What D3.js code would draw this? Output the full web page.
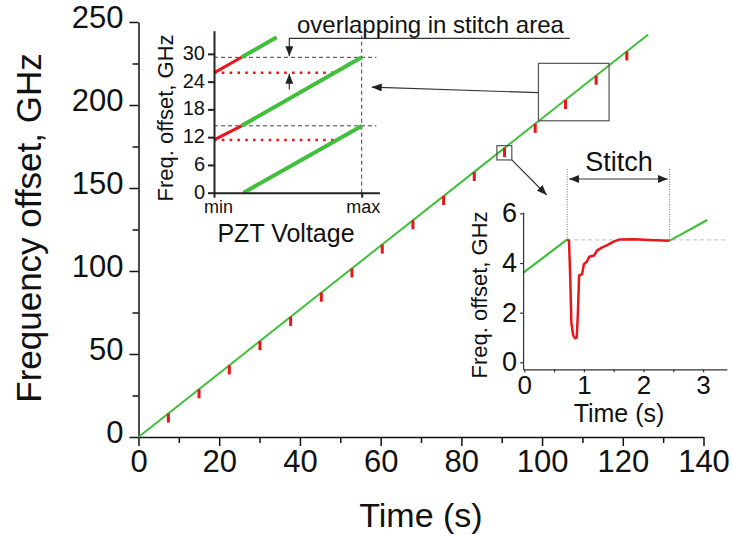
<!DOCTYPE html>
<html>
<head>
<meta charset="utf-8">
<script src="https://cdnjs.cloudflare.com/ajax/libs/d3/7.8.5/d3.min.js"></script>
<style>
  body { margin: 0; background: #fff; }
  text { font-family: "Liberation Sans", Arial, sans-serif; fill: #111; }
</style>
</head>
<body>
<div class="main"></div>
<script>
// main chart data
var rampTime = [0, 126.3],
    rampFreq = [0, 242.5];
var stitchTime   = [7.4, 15.0, 22.5, 30.1, 37.7, 45.3, 52.9, 60.4, 68.0, 75.6, 83.2, 90.7, 98.3, 105.8, 113.4, 121.0],
    stitchTop    = [14.2, 28.8, 43.2, 57.8, 72.4, 87.0, 101.6, 116.0, 130.6, 145.2, 159.7, 174.1, 188.7, 203.1, 217.7, 232.3],
    stitchBottom = [8.7, 23.3, 37.7, 52.3, 66.9, 81.5, 96.1, 110.5, 125.1, 139.7, 154.2, 168.6, 183.2, 197.6, 212.2, 226.8];
var xTicks = [0, 20, 40, 60, 80, 100, 120, 140],
    xMinor = [10, 30, 50, 70, 90, 110, 130],
    yTicks = [0, 50, 100, 150, 200, 250],
    yMinor = [25, 75, 125, 175, 225];
var bigBoxT = [99.1, 116.6], bigBoxF = [190.5, 225.1],
    smallBoxT = [88.8, 92.5], smallBoxF = [166.9, 175.5];

// inset 1 (PZT sweep) data
var pztTicks = [0, 6, 12, 18, 24, 30];
var green1V = [0.2, 1],     green1F = [0, 14.4],
    green2V = [0.187, 1],   green2F = [14.45, 29.25],
    green3V = [0.187, 0.424], green3F = [29.25, 33.6],
    red2V = [0, 0.187],     red2F = [11.4, 14.45],
    red3V = [0, 0.187],     red3F = [25.9, 29.25],
    dot1V = [0, 0.835, 1],  dot1F = [11.4, 11.4, 14.4],
    dot2V = [0, 0.816, 1],  dot2F = [25.9, 25.9, 29.25],
    levelF = [14.45, 29.25];

// inset 2 (one stitch) data
var tTicks = [0, 1, 2, 3], tMinor = [0.5, 1.5, 2.5], fTicks = [0, 2, 4, 6];
var beforeT = [-0.02, 0.72], beforeF = [3.6, 4.95],
    afterT  = [2.44, 3.07],  afterF  = [4.9, 5.73];
var stitchT = [0.72, 0.75, 0.77, 0.79, 0.82, 0.85, 0.88, 0.90, 0.92, 0.97, 1.00, 1.05, 1.09, 1.17, 1.22, 1.30, 1.40, 1.50, 1.60, 1.85, 2.10, 2.44],
    stitchF = [4.95, 4.90, 3.50, 1.60, 1.10, 0.97, 1.00, 2.00, 3.50, 3.55, 3.95, 4.05, 4.25, 4.30, 4.50, 4.62, 4.73, 4.86, 4.95, 4.96, 4.93, 4.90];
var stitchSpan = [0.72, 2.44], stitchLevel = 4.93;

var GREEN = '#3fbf3a', RED = '#e8161b', INK = '#222';

var svg = d3.select('.main').append('svg').attr('width', 732).attr('height', 535);

var defs = svg.append('defs');
defs.append('marker').attr('id', 'head')
    .attr('viewBox', '0 0 10 8').attr('refX', 10).attr('refY', 4)
    .attr('markerWidth', 10).attr('markerHeight', 8)
    .attr('markerUnits', 'userSpaceOnUse').attr('orient', 'auto-start-reverse')
  .append('path').attr('d', 'M0,0L10,4L0,8Z').attr('fill', INK);

function pts(a, b) { return d3.zip(a, b); }

function styleAxis(g, size, width, color) {
    g.attr('font-size', size);
    g.selectAll('path, line').attr('stroke', color).attr('stroke-width', width);
}

// ---------- main chart ----------
var x = d3.scaleLinear().domain([0, 140]).range([138.5, 703.5]);
var y = d3.scaleLinear().domain([0, 250]).range([437, 22]);

var gx = svg.append('g').attr('transform', 'translate(0,' + y(0) + ')')
    .call(d3.axisBottom(x).tickValues(xTicks).tickSize(9).tickSizeOuter(0).tickPadding(4));
styleAxis(gx, 31, 1.5, '#111');
var gxm = svg.append('g').attr('transform', 'translate(0,' + y(0) + ')')
    .call(d3.axisBottom(x).tickValues(xMinor).tickSize(6).tickFormat(''));
styleAxis(gxm, 10, 1.5, '#111');
gxm.select('.domain').remove();

var gy = svg.append('g').attr('transform', 'translate(' + x(0) + ',0)')
    .call(d3.axisLeft(y).tickValues(yTicks).tickSize(9).tickSizeOuter(0).tickPadding(6));
styleAxis(gy, 31, 1.5, '#111');
gy.selectAll('text').attr('dy', '0.18em');
var gym = svg.append('g').attr('transform', 'translate(' + x(0) + ',0)')
    .call(d3.axisLeft(y).tickValues(yMinor).tickSize(6).tickFormat(''));
styleAxis(gym, 10, 1.5, '#111');
gym.select('.domain').remove();

svg.append('text').attr('x', 421).attr('y', 527).attr('text-anchor', 'middle')
    .attr('font-size', 34).text('Time (s)');
svg.append('text').attr('transform', 'translate(41,228) rotate(-90)').attr('text-anchor', 'middle')
    .attr('font-size', 35).text('Frequency offset, GHz');

var line = d3.line().x(d => x(d[0])).y(d => y(d[1]));
svg.append('path').datum(pts(rampTime, rampFreq)).attr('d', line)
    .attr('fill', 'none').attr('stroke', GREEN).attr('stroke-width', 2);

svg.selectAll('.mark').data(stitchTime).enter().append('line')
    .attr('class', 'mark')
    .attr('x1', d => x(d)).attr('x2', d => x(d))
    .attr('y1', (d, i) => y(stitchTop[i])).attr('y2', (d, i) => y(stitchBottom[i]))
    .attr('stroke', RED).attr('stroke-width', 3);

// zoom boxes
[[bigBoxT, bigBoxF], [smallBoxT, smallBoxF]].forEach(function(b) {
    svg.append('rect')
        .attr('x', x(b[0][0])).attr('y', y(b[1][1]))
        .attr('width', x(b[0][1]) - x(b[0][0])).attr('height', y(b[1][0]) - y(b[1][1]))
        .attr('fill', 'none').attr('stroke', '#555').attr('stroke-width', 1.2);
});

// ---------- inset 1: PZT voltage ----------
var pv = d3.scaleLinear().domain([0, 1.12]).range([214, 379.4]);
var pf = d3.scaleLinear().domain([0, 35]).range([192.7, 30.7]);
var pline = d3.line().x(d => pv(d[0])).y(d => pf(d[1]));

var dash = svg.append('g').attr('stroke', '#444').attr('stroke-width', 1).attr('stroke-dasharray', '4 3').attr('fill', 'none');
levelF.forEach(function(f) {
    dash.append('line').attr('x1', pv(0)).attr('x2', pv(1.1)).attr('y1', pf(f)).attr('y2', pf(f));
});
dash.append('line').attr('x1', pv(1)).attr('x2', pv(1)).attr('y1', pf(0)).attr('y2', pf(34));

[[dot1V, dot1F], [dot2V, dot2F]].forEach(function(s) {
    svg.append('path').datum(pts(s[0], s[1])).attr('d', pline)
        .attr('fill', 'none').attr('stroke', RED).attr('stroke-width', 2.6)
        .attr('stroke-dasharray', '2.6 5.2');
});
[[green1V, green1F], [green2V, green2F], [green3V, green3F]].forEach(function(s) {
    svg.append('path').datum(pts(s[0], s[1])).attr('d', pline)
        .attr('fill', 'none').attr('stroke', GREEN).attr('stroke-width', 4);
});
[[red2V, red2F], [red3V, red3F]].forEach(function(s) {
    svg.append('path').datum(pts(s[0], s[1])).attr('d', pline)
        .attr('fill', 'none').attr('stroke', RED).attr('stroke-width', 3);
});

var g1y = svg.append('g').attr('transform', 'translate(' + pv(0) + ',0)')
    .call(d3.axisLeft(pf).tickValues(pztTicks).tickSize(6).tickSizeOuter(0).tickPadding(3));
styleAxis(g1y, 20, 2, '#222');
g1y.selectAll('text').attr('dy', '0.28em');
var g1x = svg.append('g').attr('transform', 'translate(0,' + pf(0) + ')')
    .call(d3.axisBottom(pv).tickValues([0, 1]).tickFormat(d => d ? 'max' : 'min')
        .tickSize(5).tickSizeOuter(0).tickPadding(3));
styleAxis(g1x, 18, 2, '#222');
g1x.selectAll('text').attr('dx', d => d ? 1 : 4);

svg.append('text').attr('x', 286).attr('y', 242).attr('text-anchor', 'middle')
    .attr('font-size', 25).text('PZT Voltage');
svg.append('text').attr('transform', 'translate(172.5,118) rotate(-90)').attr('text-anchor', 'middle')
    .attr('font-size', 22).text('Freq. offset, GHz');

// overlap annotation
svg.append('text').attr('x', 297).attr('y', 33).attr('font-size', 24).text('overlapping in stitch area');
svg.append('path')
    .attr('d', 'M' + pv(2.41) + ',' + pf(33.35) + 'H' + pv(0.51) + 'V' + pf(29.5))
    .attr('fill', 'none').attr('stroke', '#333').attr('stroke-width', 1.2)
    .attr('marker-end', 'url(#head)');
svg.append('line')
    .attr('x1', pv(0.51)).attr('y1', pf(22.3)).attr('x2', pv(0.51)).attr('y2', pf(25.7))
    .attr('stroke', '#333').attr('stroke-width', 1.2).attr('marker-end', 'url(#head)');

// ---------- inset 2: one stitch ----------
var st = d3.scaleLinear().domain([-0.02, 3.4]).range([523.1, 726.9]);
var sf = d3.scaleLinear().domain([-0.28, 6.05]).range([369.3, 212.1]);
var sline = d3.line().x(d => st(d[0])).y(d => sf(d[1]));

svg.append('line').attr('x1', st(stitchSpan[0])).attr('x2', st(3.4))
    .attr('y1', sf(stitchLevel)).attr('y2', sf(stitchLevel))
    .attr('stroke', '#bbb').attr('stroke-width', 1).attr('stroke-dasharray', '4 3');
stitchSpan.forEach(function(t) {
    svg.append('line').attr('x1', st(t)).attr('x2', st(t)).attr('y1', sf(stitchLevel)).attr('y2', 169)
        .attr('stroke', '#444').attr('stroke-width', 0.8).attr('stroke-dasharray', '1 1.5');
});
svg.append('line').attr('x1', st(stitchSpan[0]) + 2).attr('x2', st(stitchSpan[1]) - 2)
    .attr('y1', 179).attr('y2', 179)
    .attr('stroke', '#333').attr('stroke-width', 1.2)
    .attr('marker-start', 'url(#head)').attr('marker-end', 'url(#head)');
svg.append('text').attr('x', 619).attr('y', 171).attr('text-anchor', 'middle')
    .attr('font-size', 27).text('Stitch');

[[beforeT, beforeF], [afterT, afterF]].forEach(function(s) {
    svg.append('path').datum(pts(s[0], s[1])).attr('d', sline)
        .attr('fill', 'none').attr('stroke', GREEN).attr('stroke-width', 2.2);
});
svg.append('path').datum(pts(stitchT, stitchF)).attr('d', sline)
    .attr('fill', 'none').attr('stroke', RED).attr('stroke-width', 2.5).attr('stroke-linejoin', 'round');

var g2y = svg.append('g').attr('transform', 'translate(' + st(-0.02) + ',0)')
    .call(d3.axisLeft(sf).tickValues(fTicks).tickFormat(d3.format('d'))
        .tickSize(3).tickSizeOuter(0).tickPadding(3));
styleAxis(g2y, 27, 1.2, '#333');
var g2x = svg.append('g').attr('transform', 'translate(0,' + sf(-0.28) + ')')
    .call(d3.axisBottom(st).tickValues(tTicks).tickFormat(d3.format('d'))
        .tickSize(3).tickSizeOuter(0).tickPadding(3));
styleAxis(g2x, 26, 1.2, '#333');
var g2xm = svg.append('g').attr('transform', 'translate(0,' + sf(-0.28) + ')')
    .call(d3.axisBottom(st).tickValues(tMinor).tickSize(3).tickFormat(''));
styleAxis(g2xm, 10, 1.2, '#333');
g2xm.select('.domain').remove();

svg.append('text').attr('x', 619).attr('y', 422).attr('text-anchor', 'middle')
    .attr('font-size', 25).text('Time (s)');
svg.append('text').attr('transform', 'translate(487,295) rotate(-90)').attr('text-anchor', 'middle')
    .attr('font-size', 22).text('Freq. offset, GHz');

// pointer arrows from the zoom boxes
svg.append('line')
    .attr('x1', x(bigBoxT[0])).attr('y1', y(207.4)).attr('x2', pv(1.068)).attr('y2', pf(22.8))
    .attr('stroke', '#333').attr('stroke-width', 1.2).attr('marker-end', 'url(#head)');
svg.append('line')
    .attr('x1', x(smallBoxT[1])).attr('y1', y(smallBoxF[0])).attr('x2', st(0.376)).attr('y2', sf(6.74))
    .attr('stroke', '#333').attr('stroke-width', 1.2).attr('marker-end', 'url(#head)');
</script>
</body>
</html>
